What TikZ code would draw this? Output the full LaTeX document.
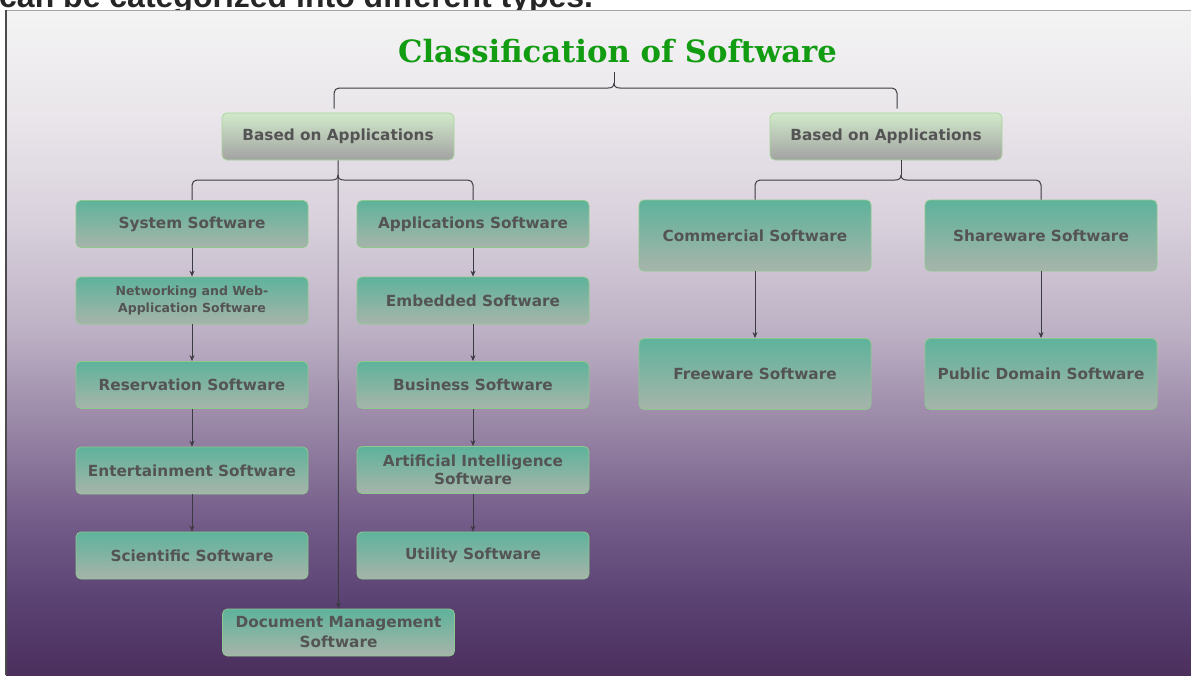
\documentclass[tikz,border=0pt]{standalone}
\usepackage{fontspec}
\setmainfont{DejaVu Sans}
\newfontfamily\titlefont{DejaVu Serif}
\newfontfamily\leadfont{Liberation Sans}
\usetikzlibrary{arrows.meta,calc}

\definecolor{titlegreen}{HTML}{119C11}
\definecolor{linegray}{HTML}{3C3A42}
\definecolor{boxtext}{HTML}{545454}
\definecolor{tealtop}{HTML}{5EB39B}
\definecolor{tealbot}{HTML}{A7B4AA}
\definecolor{tealedge}{HTML}{8DC98F}
\definecolor{greentop}{HTML}{D1EACA}
\definecolor{greenbot}{HTML}{A2A2A2}
\definecolor{greenedge}{HTML}{A8D69B}

% page background, from the bottom (dark purple) up to the top (near white)
\definecolor{bg0}{HTML}{4B2F5D}
\definecolor{bg1}{HTML}{5A4273}
\definecolor{bg2}{HTML}{745D89}
\definecolor{bg3}{HTML}{9B89A8}
\definecolor{bg4}{HTML}{BDB1C5}
\definecolor{bg5}{HTML}{D9D1DC}
\definecolor{bg6}{HTML}{E9E5EA}
\definecolor{bg7}{HTML}{F4F4F4}
\pgfdeclareverticalshading{bgshade}{100bp}{%
  color(0bp)=(bg0); color(25bp)=(bg0); color(30.6bp)=(bg1);
  color(36.7bp)=(bg2); color(44.2bp)=(bg3); color(50.9bp)=(bg4);
  color(59.2bp)=(bg5); color(66.7bp)=(bg6); color(75bp)=(bg7);
  color(100bp)=(bg7)}

\tikzset{
  softbox/.style={rounded corners=5pt, line width=0.8pt, text=boxtext,
    font=\bfseries\fontsize{15.3}{18}\selectfont, align=center, inner sep=0pt,
    minimum width=232pt, minimum height=47pt},
  tealbox/.style={softbox, draw=tealedge, top color=tealtop, bottom color=tealbot},
  headbox/.style={softbox, draw=greenedge, top color=greentop, bottom color=greenbot},
  tallbox/.style={tealbox, minimum height=71pt},
  link/.style={draw=linegray, line width=1pt},
  arrowlink/.style={link, -{Stealth[length=6pt,width=5pt]}},
}

\begin{document}
\begin{tikzpicture}[x=1pt,y=-1pt]
\useasboundingbox (0,0) rectangle (1191,675);

% caption line above the frame, cut off by the frame
\begin{scope}
  \clip (0,0) rectangle (1191,10);
  \node[anchor=base west, inner sep=0pt, text=black!85,
        font=\leadfont\bfseries\fontsize{32}{36}\selectfont]
    (lead) at (-1,7) {can be categorized into different types.};
\end{scope}

% framed background
\shade[shading=bgshade] (6,10) rectangle (1195,675);
\draw[gray!70, line width=0.8pt] (6,10) -- (1191,10);
\draw[black!70, line width=1.2pt] (6,10) -- (6,675);

% title
\node[inner sep=0pt, anchor=base, text=titlegreen,
      font=\titlefont\bfseries\fontsize{30.7}{34}\selectfont]
  (title) at (617.5,62.7) {Classification of Software};

% first level
\node[headbox] (ba1) at (338,136.5) {Based on Applications};
\node[headbox] (ba2) at (886,136.5) {Based on Applications};

% left column
\node[tealbox] (sys) at (192,224) {System Software};
\node[tealbox, font=\bfseries\fontsize{12.5}{17}\selectfont] (net) at (192,300.5)
  {Networking and Web-\\Application Software};
\node[tealbox] (res) at (192,385) {Reservation Software};
\node[tealbox] (ent) at (192,470.5) {Entertainment Software};
\node[tealbox] (sci) at (192,555.5) {Scientific Software};

% middle column
\node[tealbox] (app) at (473,224) {Applications Software};
\node[tealbox] (emb) at (473,300.5) {Embedded Software};
\node[tealbox] (bus) at (473,385) {Business Software};
\node[tealbox] (ai)  at (473,470) {Artificial Intelligence\\Software};
\node[tealbox] (uti) at (473,555.5) {Utility Software};

\node[tealbox, font=\bfseries\fontsize{15.3}{20}\selectfont] (doc) at (338.5,632.5)
  {Document Management\\Software};

% right side
\node[tallbox] (com) at (755,235.5) {Commercial Software};
\node[tallbox] (sha) at (1041,235.5) {Shareware Software};
\node[tallbox] (fre) at (755,374) {Freeware Software};
\node[tallbox] (pub) at (1041,374) {Public Domain Software};

% brace under the title
\coordinate (tj) at (614,83);
\coordinate (ts) at (614,72);
\draw[link] (ts) -- (tj);
\draw[link] ($(ba1.north)+(-4,-4)$) [rounded corners=5pt] -- (334,88)
  [sharp corners] -- (608,88) .. controls (612,88) and (614,86.5) .. (tj);
\draw[link] ($(ba2.north)+(11,-4)$) [rounded corners=5pt] -- (897,88)
  [sharp corners] -- (620,88) .. controls (616,88) and (614,86.5) .. (tj);

% brace under the left heading, with the long line to the bottom box
\coordinate (lj) at (338,175);
\draw[arrowlink] (ba1.south) -- (doc.north);
\draw[link] (sys.north) [rounded corners=5pt] -- (192,180)
  [sharp corners] -- (332,180) .. controls (336,180) and (338,178.5) .. (lj);
\draw[link] (app.north) [rounded corners=5pt] -- (473,180)
  [sharp corners] -- (344,180) .. controls (340,180) and (338,178.5) .. (lj);

% brace under the right heading
\coordinate (rs) at (901,160);
\coordinate (rj) at (901,175);
\draw[link] (rs) -- (rj);
\draw[link] (com.north) [rounded corners=5pt] -- (755,180)
  [sharp corners] -- (895,180) .. controls (899,180) and (901,178.5) .. (rj);
\draw[link] (sha.north) [rounded corners=5pt] -- (1041,180)
  [sharp corners] -- (907,180) .. controls (903,180) and (901,178.5) .. (rj);

% chains
\draw[arrowlink] (sys) -- (net);
\draw[arrowlink] (net) -- (res);
\draw[arrowlink] (res) -- (ent);
\draw[arrowlink] (ent) -- (sci);
\draw[arrowlink] (app) -- (emb);
\draw[arrowlink] (emb) -- (bus);
\draw[arrowlink] (bus) -- (ai);
\draw[arrowlink] (ai) -- (uti);
\draw[arrowlink] (com) -- (fre);
\draw[arrowlink] (sha) -- (pub);
\end{tikzpicture}
\end{document}
